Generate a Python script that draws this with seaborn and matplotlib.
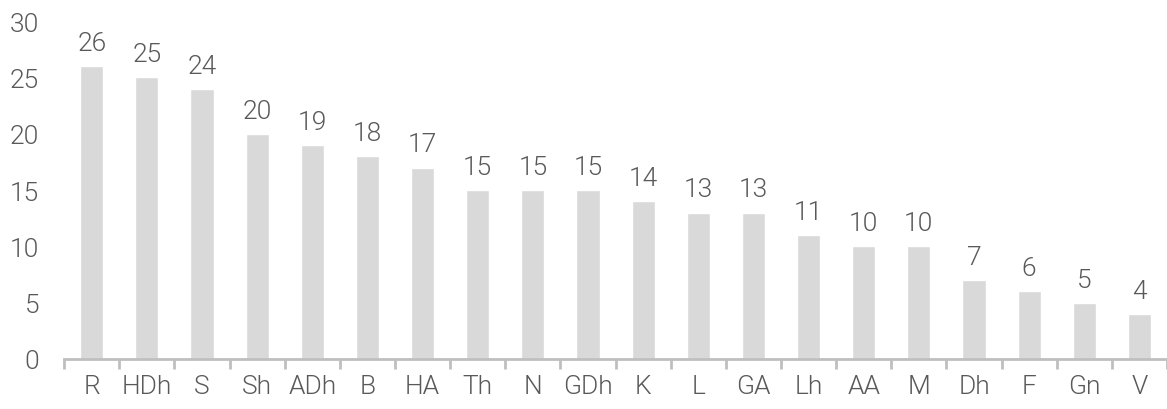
import pandas as pd
import matplotlib.pyplot as plt
import seaborn as sns

# Data
categories = ['R', 'HDh', 'S', 'Sh', 'ADh', 'B', 'HA', 'Th', 'N', 'GDh',
              'K', 'L', 'GA', 'Lh', 'AA', 'M', 'Dh', 'F', 'Gn', 'V']
counts = [26, 25, 24, 20, 19, 18, 17, 15, 15, 15,
          14, 13, 13, 11, 10, 10, 7, 6, 5, 4]

df = pd.DataFrame({'category': categories, 'count': counts})

sns.set_style('white')
plt.rcParams['font.family'] = ['Roboto', 'DejaVu Sans']
text_color = '#595959'
fsize = 19
fweight = 300

fig = plt.figure(figsize=(11.67, 4.10), dpi=100)
ax = fig.add_axes([0.055, 0.122, 0.945, 0.824])

sns.barplot(data=df, x='category', y='count', color='#d9d9d9', width=0.42,
            saturation=1, ax=ax)

# value labels above bars
for container in ax.containers:
    ax.bar_label(container, padding=8, fontsize=fsize, color=text_color,
                 fontweight=fweight)

ax.set_ylim(0, 30)
ax.set_xlim(-0.5, len(categories) - 0.5)
ax.set_yticks(range(0, 31, 5))
ax.set_xlabel('')
ax.set_ylabel('')

for side in ['top', 'right', 'left']:
    ax.spines[side].set_visible(False)
ax.spines['bottom'].set_color('#bfbfbf')
ax.spines['bottom'].set_linewidth(2)

# category labels at centers, tick marks between categories
ax.set_xticks([i - 0.5 for i in range(len(categories) + 1)], minor=True)
ax.tick_params(axis='x', which='major', bottom=True, length=0, pad=11,
               labelsize=fsize, labelcolor=text_color)
ax.tick_params(axis='x', which='minor', bottom=True, length=7, width=2,
               color='#bfbfbf', direction='out')
ax.tick_params(axis='y', length=0, pad=18, labelsize=fsize, labelcolor=text_color)
for lab in ax.get_xticklabels() + ax.get_yticklabels():
    lab.set_fontweight(fweight)

fig.savefig('out.png', dpi=100)
